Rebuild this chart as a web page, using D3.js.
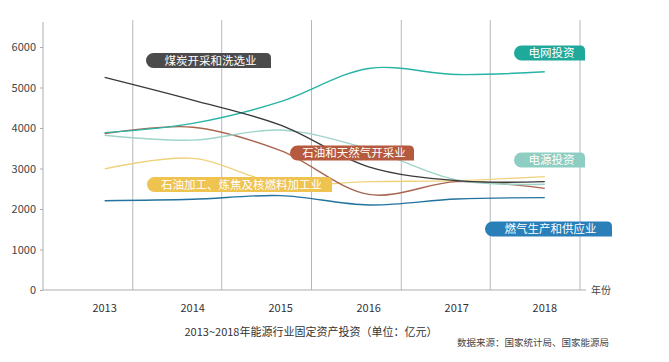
<!DOCTYPE html>
<html><head><meta charset="utf-8">
<script src="https://cdn.jsdelivr.net/npm/d3@7"></script>
<style>body{margin:0;background:#fff}svg{display:block}text{font-family:"Noto Sans CJK SC","Noto Sans",sans-serif}</style>
</head><body>
<script>
const years = [2013, 2014, 2015, 2016, 2017, 2018];
const yTicks = [0, 1000, 2000, 3000, 4000, 5000, 6000];
const gridYears = [2012.3, 2013.32, 2014.33, 2015.35, 2016.37, 2017.38, 2018.4];
const coal = [5250, 4690, 4070, 3040, 2700, 2675];
const grid = [3885, 4115, 4650, 5470, 5320, 5390];
const power = [3820, 3700, 3950, 3480, 2716, 2610];
const oilGas = [3860, 4020, 3440, 2360, 2675, 2510];
const refining = [2990, 3250, 2620, 2675, 2700, 2800];
const gas = [2205, 2240, 2330, 2100, 2247, 2280];
const seriesNames = ["煤炭开采和洗选业","电网投资","电源投资","石油和天然气开采业","石油加工、炼焦及核燃料加工业","燃气生产和供应业"];
const title = "2013~2018年能源行业固定资产投资（单位：亿元）";
const source = "数据来源：国家统计局、国家能源局";

const W = 669, H = 362;
const svg = d3.select("body").append("svg").attr("width", W).attr("height", H);
svg.append("rect").attr("width", W).attr("height", H).attr("fill", "#fff");

const x = d3.scaleLinear().domain([2012.3, 2018.4]).range([43, 580]);
const y = d3.scaleLinear().domain([0, 6000]).range([290, 47]);

// gridlines
svg.append("g").selectAll("line").data(gridYears.slice(1)).join("line")
  .attr("x1", d => x(d)).attr("x2", d => x(d))
  .attr("y1", 20).attr("y2", 290)
  .attr("stroke", "#b4b8bd").attr("stroke-width", 1);

// y axis
const ya = svg.append("g").attr("transform", "translate(43,0)")
  .call(d3.axisLeft(y).tickValues(yTicks).tickSize(3).tickPadding(4).tickFormat(d3.format("d")));
ya.select(".domain").attr("d", "M0,22V290").attr("stroke", "#a9adb2");
ya.selectAll(".tick line").attr("stroke", "#a9adb2");
ya.selectAll("text").attr("font-size", 11).attr("fill", "#444").attr("font-family", "'Noto Sans','Open Sans',sans-serif");

// x axis line
svg.append("line").attr("x1", 43).attr("x2", 586).attr("y1", 290).attr("y2", 290).attr("stroke", "#a9adb2");
svg.append("text").attr("x", 591).attr("y", 294).attr("font-size", 10).attr("fill", "#444").text("年份");

// year labels
svg.append("g").selectAll("text").data(years).join("text")
  .attr("x", d => x(d)).attr("y", 312).attr("text-anchor", "middle")
  .attr("font-size", 11).attr("fill", "#333")
  .attr("font-family", "'Noto Sans','Open Sans',sans-serif")
  .text(d => d);

const line = d3.line().x((d, i) => x(years[i])).y(d => y(d)).curve(d3.curveCatmullRom.alpha(0.5));
const seriesData = [
  {v: gas, c: "#22739f"},
  {v: refining, c: "#f0d27c"},
  {v: oilGas, c: "#a8654f"},
  {v: power, c: "#9fd3ca"},
  {v: grid, c: "#27b3a5"},
  {v: coal, c: "#3a3a3a"}
];
svg.append("g").selectAll("path").data(seriesData).join("path")
  .attr("d", d => line(d.v)).attr("fill", "none")
  .attr("stroke", d => d.c).attr("stroke-width", 1.4);

// tag labels
function tagPath(x0, y0, w, h) {
  const r = h / 2, r2 = 5;
  return `M${x0 + r},${y0} H${x0 + w - r2} Q${x0 + w},${y0} ${x0 + w},${y0 + r2} V${y0 + h} H${x0 + r} A${r},${r} 0 0 1 ${x0 + r},${y0} Z`;
}
const tags = [
  {t: seriesNames[0], x: 146, y: 53, w: 125, c: "#4b4b4b"},
  {t: seriesNames[1], x: 514, y: 45.5, w: 71, c: "#1fa99b"},
  {t: seriesNames[2], x: 514, y: 152.5, w: 71, c: "#8ecdc2"},
  {t: seriesNames[3], x: 290, y: 145.5, w: 124, c: "#b55a3e"},
  {t: seriesNames[4], x: 147, y: 177, w: 185, c: "#eec34f"},
  {t: seriesNames[5], x: 485, y: 221.5, w: 127, c: "#2a7fb8"}
];
const tg = svg.append("g").selectAll("g").data(tags).join("g");
tg.append("path").attr("d", d => tagPath(d.x, d.y, d.w, 15)).attr("fill", d => d.c);
tg.append("text").attr("x", d => d.x + d.w / 2 + 2).attr("y", d => d.y + 11.8)
  .attr("text-anchor", "middle").attr("font-size", 11.5).attr("fill", "#fff").text(d => d.t);

svg.append("text").attr("x", 311).attr("y", 336).attr("text-anchor", "middle")
  .attr("font-size", 11).attr("fill", "#333").text(title);
svg.append("text").attr("x", 533).attr("y", 345.5).attr("text-anchor", "middle")
  .attr("font-size", 9.5).attr("fill", "#444").text(source);
</script>
</body></html>
